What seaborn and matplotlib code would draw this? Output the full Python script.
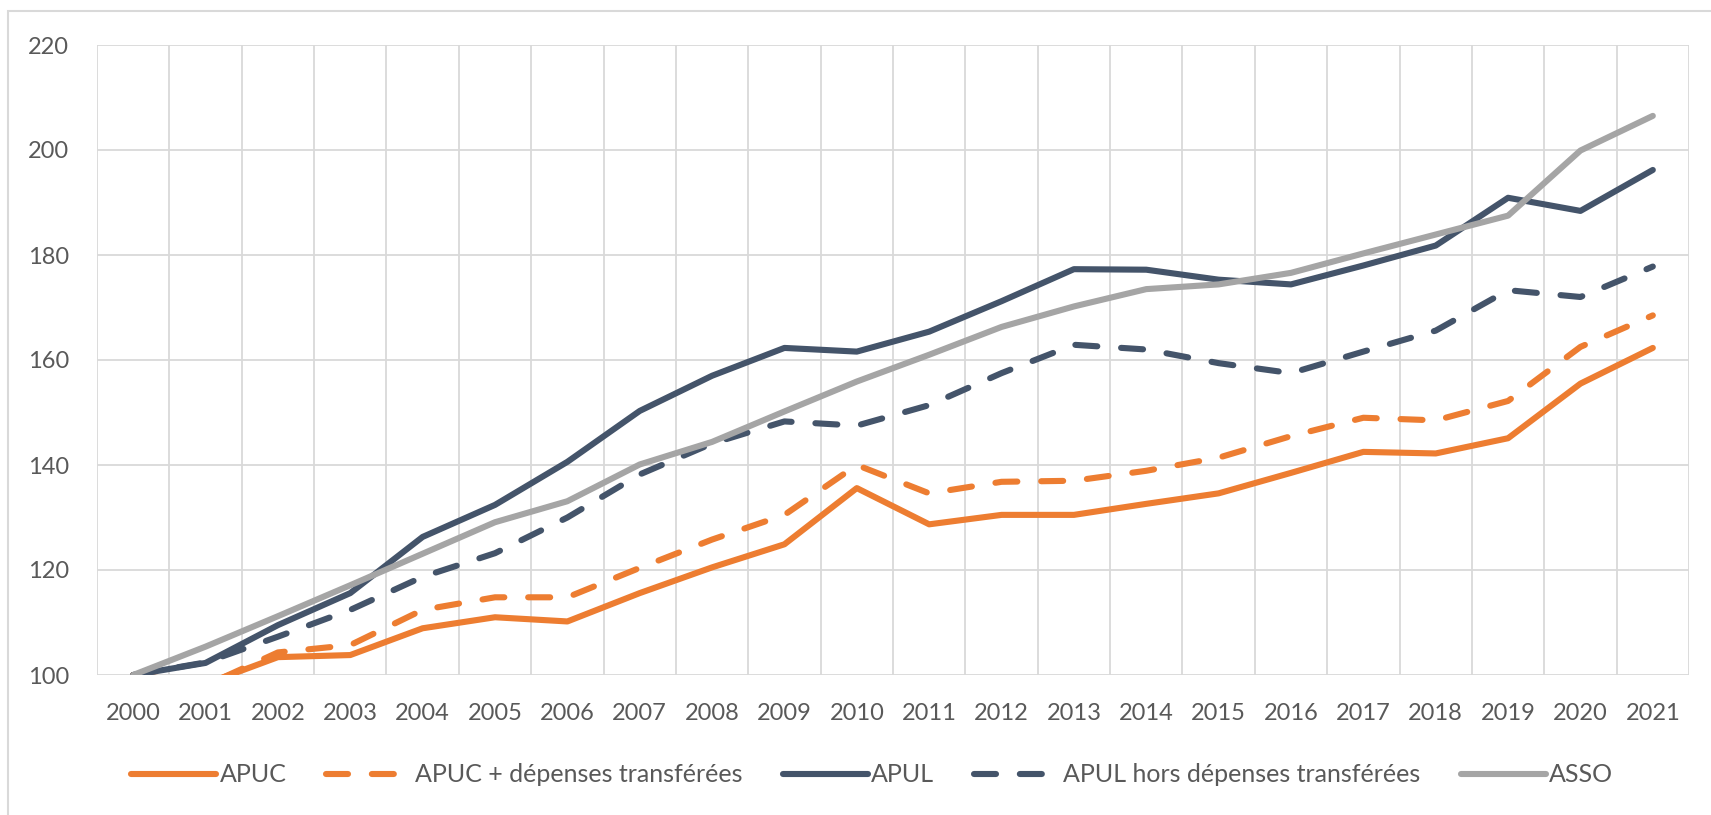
import matplotlib
matplotlib.use("Agg")
import matplotlib.pyplot as plt
import matplotlib.patches as mpatches
from matplotlib.ticker import MultipleLocator
import numpy as np
import pandas as pd
import seaborn as sb

# indices base 100 en 2000
years = list(range(2000, 2022))
apuc = [100, 98.3, 103.4, 103.8, 108.9, 111.0, 110.2, 115.6, 120.5, 124.9, 135.6,
        128.7, 130.5, 130.5, 132.6, 134.6, 138.5, 142.5, 142.2, 145.1, 155.5, 162.3]
apuc_transf = [100, 98.0, 104.3, 105.7, 112.4, 114.8, 114.8, 120.4, 125.8, 130.5, 140.0,
               134.6, 136.8, 137.0, 138.9, 141.4, 145.5, 149.0, 148.5, 152.2, 162.5, 168.5]
apul = [100, 102.3, 109.5, 115.6, 126.3, 132.4, 140.6, 150.3, 157.0, 162.3, 161.6,
        165.4, 171.2, 177.3, 177.2, 175.3, 174.4, 178.0, 181.8, 190.9, 188.4, 196.2]
apul_hors = [100, 102.4, 107.3, 112.4, 118.7, 123.2, 130.0, 138.2, 144.1, 148.3, 147.5,
             151.4, 157.5, 162.9, 162.0, 159.4, 157.5, 161.6, 165.6, 173.3, 172.0, 177.8]
asso = [100, 105.4, 111.2, 117.1, 123.1, 129.1, 133.1, 140.1, 144.4, 150.2, 155.9,
        161.0, 166.3, 170.2, 173.5, 174.4, 176.6, 180.3, 183.9, 187.5, 199.9, 206.5]

series_names = ["APUC", "APUC + dépenses transférées", "APUL",
                "APUL hors dépenses transférées", "ASSO"]
series_values = [apuc, apuc_transf, apul, apul_hors, asso]
colors = ["#ED7D31", "#ED7D31", "#44546A", "#44546A", "#A5A5A5"]
dashed = [False, True, False, True, False]

grid_col = "#D9D9D9"
text_col = "#595959"

sb.set_style("white")
plt.rcParams['font.family'] = ['Lato', 'DejaVu Sans']

fig = plt.figure(figsize=(17.11, 8.15), dpi=100)
ax = fig.add_axes([97 / 1711, 1 - 675 / 815, (1689 - 97) / 1711, (675 - 45) / 815])

for name, vals, col, ds in zip(series_names, series_values, colors, dashed):
    ls = (0, (3.6, 3.9)) if ds else "-"
    sb.lineplot(x=years, y=vals, color=col, linewidth=4.4, linestyle=ls,
                label=name, ax=ax)

for line in ax.get_lines():
    line.set_dash_capstyle("round")
    line.set_solid_capstyle("round")
    line.set_solid_joinstyle("round")
    line.set_dash_joinstyle("round")

ax.set_xlim(1999.5, 2021.5)
ax.set_ylim(100, 220)
ax.set_xticks(years)
ax.set_xticks(np.arange(1999.5, 2022, 1), minor=True)
ax.yaxis.set_major_locator(MultipleLocator(20))
ax.grid(False)
ax.grid(True, which="minor", axis="x", color=grid_col, lw=1.3, zorder=0)
ax.grid(True, which="major", axis="y", color=grid_col, lw=1.3, zorder=0)
ax.set_axisbelow(True)
for s in ax.spines.values():
    s.set_visible(False)
ax.tick_params(axis="both", which="both", length=0, colors=text_col, labelsize=17)
ax.tick_params(axis="y", pad=20)
ax.tick_params(axis="x", pad=20)
ax.set_xlabel("")
ax.set_ylabel("")

handles, labels = ax.get_legend_handles_labels()
if ax.get_legend():
    ax.get_legend().remove()
leg = fig.legend(handles, labels, loc="center", bbox_to_anchor=(872 / 1711, 1 - 775 / 815),
                 ncol=5, frameon=False, fontsize=18, handlelength=3.4,
                 handletextpad=0.15, columnspacing=1.6)
for t in leg.get_texts():
    t.set_color(text_col)

# cadre de la zone de graphique
fig.patches.append(mpatches.Rectangle((8 / 1711, -0.05), 1.2, 1 - 11 / 815 + 0.05,
                                      transform=fig.transFigure, fill=False,
                                      edgecolor=grid_col, lw=1.5))

fig.savefig("out.png", dpi=100)
